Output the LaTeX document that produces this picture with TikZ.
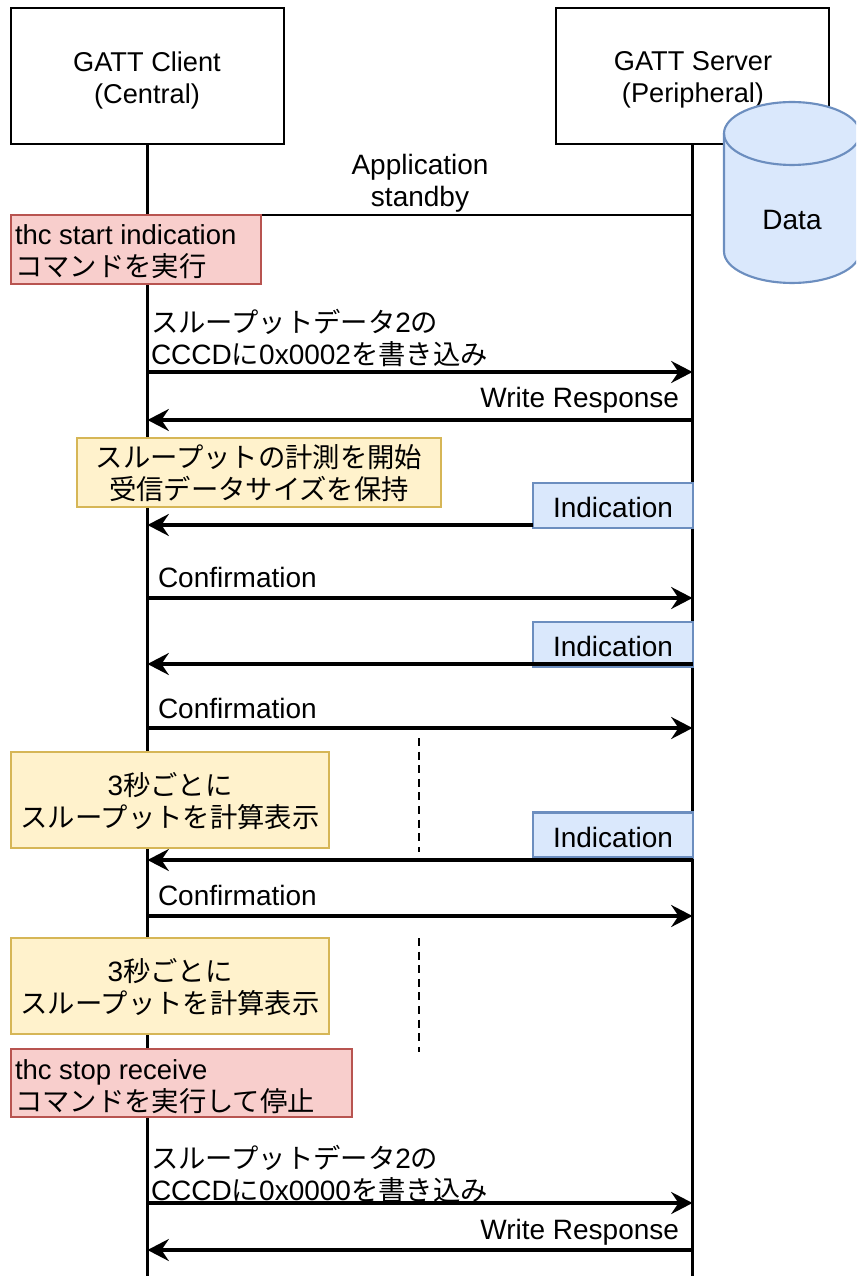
\documentclass[tikz,border=0pt]{standalone}
\usepackage{fontspec}
\setmainfont{Liberation Sans}
\newfontfamily\cjk{Noto Sans CJK JP}
\usetikzlibrary{arrows.meta}
\newcommand{\ja}[1]{{\fontsize{20.5}{24}\selectfont\cjk #1}}
\definecolor{redf}{HTML}{F8CECC}\definecolor{reds}{HTML}{B85450}
\definecolor{yelf}{HTML}{FFF2CC}\definecolor{yels}{HTML}{D6B656}
\definecolor{bluf}{HTML}{DAE8FC}\definecolor{blus}{HTML}{6C8EBF}
\tikzset{
  x=0.75pt,y=-0.75pt,
  every node/.style={font=\fontsize{21}{24}\selectfont,inner sep=0pt,outer sep=0pt},
  actor/.style={draw=black,fill=white,line width=1.6pt,font=\fontsize{20.4}{24}\selectfont},
  lifeline/.style={draw=black,line width=1.6pt},
  redbox/.style={draw=reds,fill=redf,line width=1.6pt},
  yelbox/.style={draw=yels,fill=yelf,line width=1.6pt},
  blubox/.style={draw=blus,fill=bluf,line width=1.6pt},
  msg/.style={draw=black,line width=2.4pt,-{Stealth[length=16pt,width=16.5pt,inset=5.5pt]}},
  plainmsg/.style={draw=black,line width=1.6pt},
  dots/.style={draw=black,line width=1.7pt,dash pattern=on 6pt off 4.2pt},
  lbl/.style={align=left,anchor=west},
  ctr/.style={align=center,anchor=center},
  redlbl/.style={align=left,anchor=west,font=\fontsize{20.6}{24}\selectfont},
}
\begin{document}
\begin{tikzpicture}
\useasboundingbox (0,0) rectangle (856,1276);
\clip (0,0) rectangle (856,1276);
% coordinates on the lifelines and free ends
\coordinate (cEnd) at (147.5,1276);
\coordinate (sEnd) at (692.5,1276);
\coordinate (cApp) at (147.5,215); \coordinate (sApp) at (692.5,215);
\coordinate (c1) at (147.5,372);  \coordinate (s1) at (692.5,372);
\coordinate (c2) at (147.5,420);  \coordinate (s2) at (692.5,420);
\coordinate (c3) at (147.5,525);  \coordinate (s3) at (533,525);
\coordinate (c4) at (147.5,598);  \coordinate (s4) at (692.5,598);
\coordinate (c5) at (147.5,664);  \coordinate (s5) at (692.5,664);
\coordinate (c6) at (147.5,728);  \coordinate (s6) at (692.5,728);
\coordinate (c7) at (147.5,860);  \coordinate (s7) at (692.5,860);
\coordinate (c8) at (147.5,916);  \coordinate (s8) at (692.5,916);
\coordinate (c9) at (147.5,1203); \coordinate (s9) at (692.5,1203);
\coordinate (c10) at (147.5,1250);\coordinate (s10) at (692.5,1250);
\coordinate (d1a) at (419,738);  \coordinate (d1b) at (419,852);
\coordinate (d2a) at (419,938);  \coordinate (d2b) at (419,1052);

% actors
\node[actor,minimum width=204.75pt,minimum height=102pt] (client) at (147.5,76) {};
\node[align=center,font=\fontsize{20.4}{24}\selectfont] (clientt) at (147,80) {GATT Client\\(Central)};
\node[actor,minimum width=204.75pt,minimum height=102pt] (server) at (692.5,76) {};
\node[align=center,font=\fontsize{20.4}{24}\selectfont] (servert) at (693,80) {GATT Server\\(Peripheral)};

% lifelines and the plain line
\draw[lifeline] (client.south) -- (cEnd);
\draw[lifeline] (server.south) -- (sEnd);
\draw[plainmsg] (sApp) -- (cApp);

% cylinder
\draw[draw=blus,fill=bluf,line width=1.6pt]
  (724,133.5) arc[start angle=180,end angle=0,x radius=51pt,y radius=23.6pt]
  -- (860,251.5) arc[start angle=0,end angle=-180,x radius=51pt,y radius=23.6pt] -- cycle;
\draw[draw=blus,line width=1.6pt]
  (724,133.5) arc[start angle=180,end angle=360,x radius=51pt,y radius=23.6pt];
\node[ctr] (data) at (792,220) {Data};

% indication boxes (under the arrows)
\node[blubox,minimum width=120pt,minimum height=33.75pt] (ind1) at (613,505.5) {};
\node (ind1t) at (613,507.5) {Indication};
\node[blubox,minimum width=120pt,minimum height=33.75pt] (ind2) at (613,644.5) {};
\node (ind2t) at (613,646.5) {Indication};
\node[blubox,minimum width=120pt,minimum height=33.75pt] (ind3) at (613,835) {};
\node (ind3t) at (613,837) {Indication};

% messages
\draw[msg] (c1) -- (s1);
\draw[msg] (s2) -- (c2);
\draw[msg] (s3) -- (c3);
\draw[msg] (c4) -- (s4);
\draw[msg] (s5) -- (c5);
\draw[msg] (c6) -- (s6);
\draw[msg] (s7) -- (c7);
\draw[msg] (c8) -- (s8);
\draw[msg] (c9) -- (s9);
\draw[msg] (s10) -- (c10);
\draw[dots] (d1a) -- (d1b);
\draw[dots] (d2a) -- (d2b);

% labels
\node[ctr] (app) at (420,183) {Application\\standby};
\node[lbl] (m1) at (151,338) {\ja{スループットデータ}2\ja{の}\\CCCD\ja{に}0x0002\ja{を書き込み}};
\node[anchor=east] (m2) at (679,400) {Write Response};
\node[lbl] (m4) at (158,577) {Confirmation};
\node[lbl] (m6) at (158,708) {Confirmation};
\node[lbl] (m8) at (158,895.5) {Confirmation};
\node[lbl] (m9) at (151,1174) {\ja{スループットデータ}2\ja{の}\\CCCD\ja{に}0x0000\ja{を書き込み}};
\node[anchor=east] (m10) at (679,1232) {Write Response};

% notes
\node[redbox,minimum width=187.5pt,minimum height=51.75pt] (r1) at (136,249.5) {};
\node[redlbl] (r1t) at (15,252) {thc start indication\\\ja{コマンドを実行}};
\node[yelbox,minimum width=273pt,minimum height=51.75pt] (y1) at (259,472.5) {};
\node[ctr] (y1t) at (259,473.5) {\ja{スループットの計測を開始}\\\ja{受信データサイズを保持}};
\node[yelbox,minimum width=238.5pt,minimum height=72pt] (y2) at (170,800) {};
\node[ctr] (y2t) at (170,801) {3\ja{秒ごとに}\\\ja{スループットを計算表示}};
\node[yelbox,minimum width=238.5pt,minimum height=72pt] (y3) at (170,986) {};
\node[ctr] (y3t) at (170,987) {3\ja{秒ごとに}\\\ja{スループットを計算表示}};
\node[redbox,minimum width=255.75pt,minimum height=51pt] (r2) at (181.5,1083) {};
\node[redlbl] (r2t) at (15,1087) {thc stop receive\\\ja{コマンドを実行して停止}};
\end{tikzpicture}
\end{document}
